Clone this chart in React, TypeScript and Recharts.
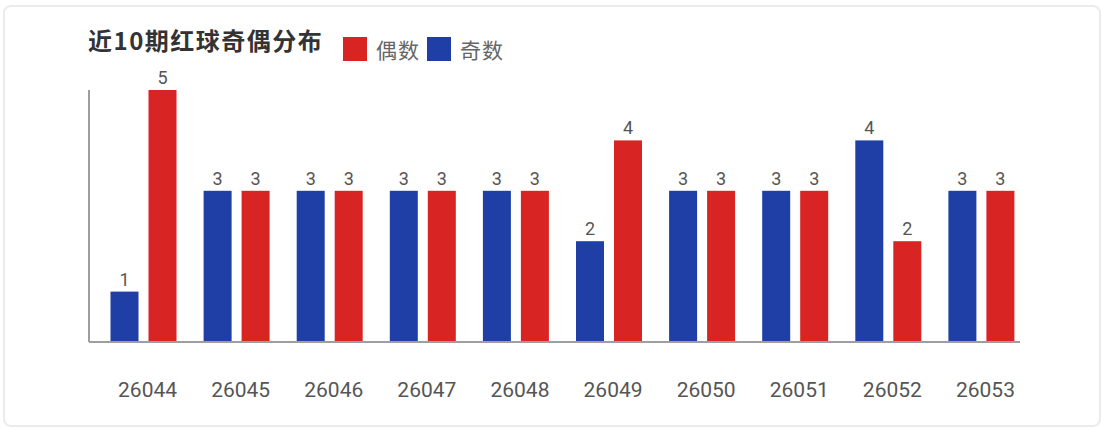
import React from 'react';
import { BarChart, Bar, XAxis, YAxis, LabelList, Legend } from 'recharts';

const periods = ['26044', '26045', '26046', '26047', '26048', '26049', '26050', '26051', '26052', '26053'];
const oddCounts = [1, 3, 3, 3, 3, 2, 3, 3, 4, 3];
const evenCounts = [5, 3, 3, 3, 3, 4, 3, 3, 2, 3];
const yTicks = [0, 5];

const RED = '#d92424';
const BLUE = '#1f3fa6';
const SHIFT = 7.5;

const data = periods.map((p, i) => ({ period: p, odd: oddCounts[i], even: evenCounts[i] }));

const ShiftedBar = (props: any) => {
  const { x, y, width, height, fill } = props;
  if (!height || height <= 0) return null;
  return <rect x={x + SHIFT} y={y} width={width} height={height} fill={fill} />;
};

const ValueLabel = (props: any) => {
  const { x, y, width, value } = props;
  return (
    <text
      x={x + width / 2 + SHIFT}
      y={y - 6}
      textAnchor="middle"
      fill="#555"
      fontSize={18}
      fontFamily="Roboto, 'Noto Sans', sans-serif"
    >
      {value}
    </text>
  );
};

const Tick = (props: any) => {
  const { x, y, payload } = props;
  return (
    <text
      x={x + 12}
      y={y + 55}
      textAnchor="middle"
      fill="#555"
      fontSize={21}
      fontFamily="Roboto, 'Noto Sans', sans-serif"
    >
      {payload.value}
    </text>
  );
};

const legendItems = [
  { label: '偶数', color: RED },
  { label: '奇数', color: BLUE },
];

const LegendContent = () => (
  <div style={{ display: 'flex', alignItems: 'center' }}>
    {legendItems.map((it, i) => (
      <div key={it.label} style={{ display: 'flex', alignItems: 'center', marginRight: i === 0 ? 7 : 0 }}>
        <div style={{ width: 24, height: 24, background: it.color }} />
        <span
          style={{
            marginLeft: 9,
            fontSize: 21,
            letterSpacing: 1,
            color: '#666',
            lineHeight: '24px',
            fontFamily: "'Noto Sans CJK SC', sans-serif",
          }}
        >
          {it.label}
        </span>
      </div>
    ))}
  </div>
);

export default function App() {
  return (
    <div style={{ position: 'fixed', left: 0, top: 0, width: 1102, height: 428, background: '#fff' }}>
      <div
        style={{
          position: 'absolute',
          left: 3,
          top: 5,
          width: 1094,
          height: 418,
          border: '2px solid #ebebeb',
          borderRadius: 8,
        }}
      />
      <div
        style={{
          position: 'absolute',
          left: 88,
          top: 28,
          fontSize: 24,
          lineHeight: '24px',
          fontWeight: 700,
          letterSpacing: 1.5,
          color: '#333',
          fontFamily: "'Noto Sans CJK SC', sans-serif",
          whiteSpace: 'nowrap',
        }}
      >
        近10期红球奇偶分布
      </div>
      <div style={{ position: 'absolute', left: 0, top: 0 }}>
        <BarChart
          width={1102}
          height={428}
          data={data}
          margin={{ top: 90, right: 82, bottom: 22, left: 87 }}
          barSize={28}
          barGap={10}
        >
          <XAxis
            dataKey="period"
            height={40}
            axisLine={{ stroke: '#9e9e9e', strokeWidth: 2 }}
            tickLine={false}
            tickSize={0}
            tickMargin={0}
            tick={<Tick />}
            interval={0}
          />
          <YAxis
            width={2}
            domain={[0, 5]}
            ticks={yTicks}
            axisLine={{ stroke: '#9e9e9e', strokeWidth: 2 }}
            tickLine={false}
            tick={false}
          />
          <Legend
            content={<LegendContent />}
            wrapperStyle={{ position: 'absolute', top: 37, left: 343, width: 'auto', height: 24 }}
          />
          <Bar dataKey="odd" name="奇数" fill={BLUE} shape={<ShiftedBar />} isAnimationActive={false}>
            <LabelList dataKey="odd" content={<ValueLabel />} />
          </Bar>
          <Bar dataKey="even" name="偶数" fill={RED} shape={<ShiftedBar />} isAnimationActive={false}>
            <LabelList dataKey="even" content={<ValueLabel />} />
          </Bar>
        </BarChart>
      </div>
    </div>
  );
}
